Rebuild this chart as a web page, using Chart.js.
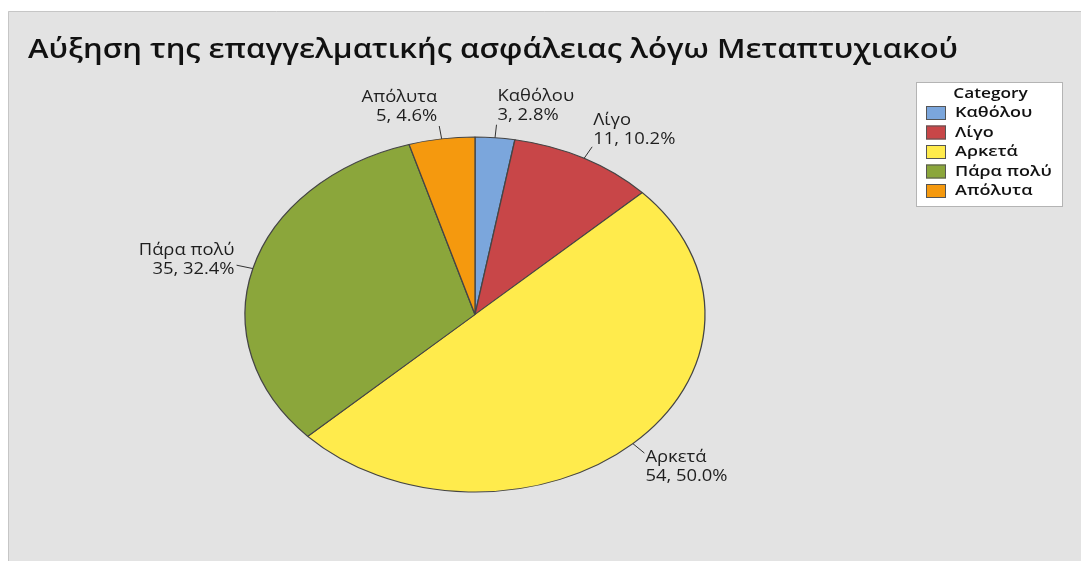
<!DOCTYPE html>
<html>
<head>
<meta charset="utf-8">
<script src="https://cdn.jsdelivr.net/npm/chart.js@4.4.0/dist/chart.umd.min.js"></script>
<style>
  html, body { margin: 0; padding: 0; background: #fff; }
</style>
</head>
<body>
<canvas id="pieChart" width="1081" height="561"></canvas>
<script>
const chartTitle = "Αύξηση της επαγγελματικής ασφάλειας λόγω Μεταπτυχιακού";
const legendTitle = "Category";
const categories = ["Καθόλου", "Λίγο", "Αρκετά", "Πάρα πολύ", "Απόλυτα"];
const counts = [3, 11, 54, 35, 5];
const sliceColors = ["#7ba6dc", "#c84648", "#ffeb4c", "#8ba63b", "#f5990e"];

const total = counts.reduce((a, b) => a + b, 0);
const pct = (i) => (counts[i] / total * 100).toFixed(1) + "%";

// the whole figure is stretched sideways: pie becomes an ellipse, text gets wider
const stretchX = 230 / 177.5;
const textStretch = 1.15;

// draws text widened by sx, anchored at x according to align
function wideText(ctx, text, x, y, sx, align) {
  const w = ctx.measureText(text).width * sx;
  let left = x;
  if (align === "right") left = x - w;
  else if (align === "center") left = x - w / 2;
  ctx.save();
  ctx.textAlign = "left";
  ctx.translate(left, y);
  ctx.scale(sx, 1);
  ctx.fillText(text, 0, 0);
  ctx.restore();
}

const panelPlugin = {
  id: "panel",
  beforeDraw(chart) {
    const ctx = chart.ctx;
    ctx.save();
    ctx.fillStyle = "#fff";
    ctx.fillRect(0, 0, chart.width, chart.height);
    ctx.fillStyle = "#e3e3e3";
    ctx.fillRect(8, 11, chart.width - 8, chart.height - 11);
    ctx.strokeStyle = "#c6c6c6";
    ctx.lineWidth = 1;
    ctx.beginPath();
    ctx.moveTo(8.5, chart.height);
    ctx.lineTo(8.5, 11.5);
    ctx.lineTo(chart.width, 11.5);
    ctx.stroke();

    ctx.fillStyle = "#111";
    ctx.font = '600 27px "Open Sans"';
    ctx.textBaseline = "middle";
    const w = ctx.measureText(chartTitle).width;
    wideText(ctx, chartTitle, 28, 50, 930 / w, "left");
    ctx.restore();
  }
};

const stretchPlugin = {
  id: "stretch",
  beforeDatasetsDraw(chart) {
    const arc = chart.getDatasetMeta(0).data[0];
    const ctx = chart.ctx;
    ctx.save();
    ctx.translate(arc.x, arc.y);
    ctx.scale(stretchX, 1);
    ctx.translate(-arc.x, -arc.y);
  },
  afterDatasetsDraw(chart) {
    chart.ctx.restore();
  }
};

const sliceLabelPlugin = {
  id: "sliceLabels",
  afterDraw(chart) {
    const ctx = chart.ctx;
    const meta = chart.getDatasetMeta(0);
    const lh = 19;
    ctx.save();
    ctx.font = '16px "Open Sans"';
    ctx.fillStyle = "#1e1e1e";
    ctx.strokeStyle = "#333";
    ctx.lineWidth = 1;
    meta.data.forEach((arc, i) => {
      const mid = (arc.startAngle + arc.endAngle) / 2;
      const cx = Math.cos(mid), cy = Math.sin(mid);
      const px = arc.x + arc.outerRadius * cx * stretchX;
      const py = arc.y + arc.outerRadius * cy;
      const ex = px + 13 * cx * stretchX;
      const ey = py + 13 * cy;
      ctx.beginPath();
      ctx.moveTo(px, py);
      ctx.lineTo(ex, ey);
      ctx.stroke();

      const lines = [categories[i], counts[i] + ", " + pct(i)];
      const h = lines.length * lh;
      const top = ey - h / 2 + cy * h / 2;
      const onRight = cx >= 0;
      ctx.textBaseline = "middle";
      lines.forEach((t, k) => {
        wideText(ctx, t, ex + (onRight ? 1 : -2), top + lh * k + lh / 2,
          textStretch, onRight ? "left" : "right");
      });
    });
    ctx.restore();
  }
};

const legendPlugin = {
  id: "boxLegend",
  afterDraw(chart) {
    const ctx = chart.ctx;
    const x = 916, y = 82, w = 147, h = 125;
    ctx.save();
    ctx.fillStyle = "#fff";
    ctx.fillRect(x, y, w, h);
    ctx.strokeStyle = "#b4b4b4";
    ctx.lineWidth = 1;
    ctx.strokeRect(x + 0.5, y + 0.5, w - 1, h - 1);

    ctx.fillStyle = "#111";
    ctx.font = '600 15px "Open Sans"';
    ctx.textBaseline = "middle";
    wideText(ctx, legendTitle, x + w / 2 + 1, y + 12, 1.15, "center");

    categories.forEach((c, i) => {
      const yy = y + 31 + i * 19.5;
      ctx.fillStyle = sliceColors[i];
      ctx.fillRect(x + 10, yy - 7, 20, 14);
      ctx.strokeStyle = "#555";
      ctx.strokeRect(x + 10.5, yy - 6.5, 19, 13);
      ctx.fillStyle = "#111";
      wideText(ctx, c, x + 39, yy, 1.2, "left");
    });
    ctx.restore();
  }
};

new Chart(document.getElementById("pieChart"), {
  type: "pie",
  data: {
    labels: categories,
    datasets: [{
      data: counts,
      backgroundColor: sliceColors,
      borderColor: "#454545",
      borderWidth: 1,
      radius: 177.5,
      clip: false
    }]
  },
  options: {
    responsive: false,
    animation: false,
    layout: { padding: { top: 137, bottom: 69, left: 200, right: 331 } },
    plugins: {
      legend: { display: false },
      title: { display: false },
      tooltip: { enabled: false }
    }
  },
  plugins: [panelPlugin, stretchPlugin, sliceLabelPlugin, legendPlugin]
});
</script>
</body>
</html>
